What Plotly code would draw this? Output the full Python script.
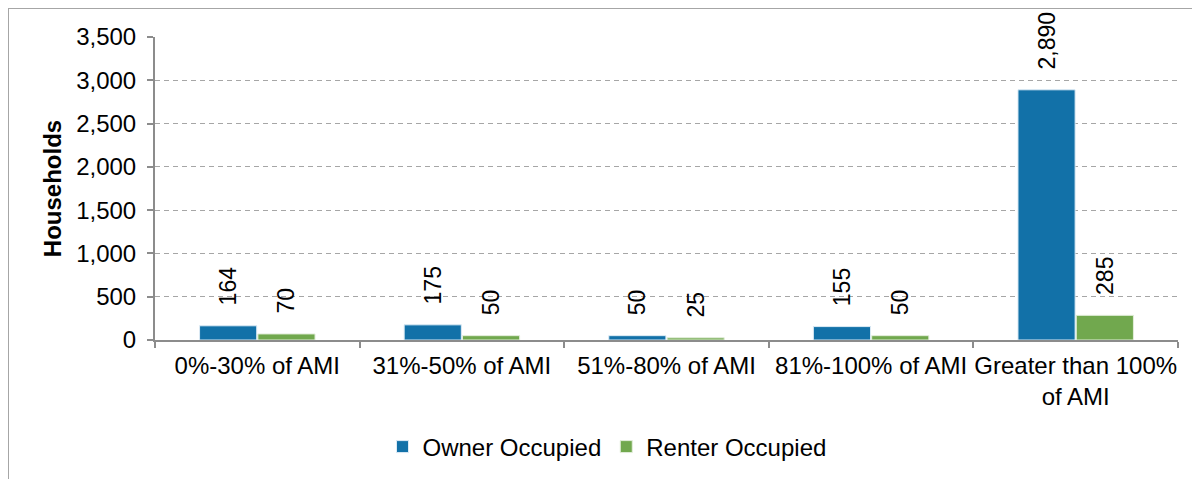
import plotly.graph_objects as go

categories = ["0%-30% of AMI", "31%-50% of AMI", "51%-80% of AMI", "81%-100% of AMI", "Greater than 100%<br>of AMI"]
owner = [164, 175, 50, 155, 2890]
renter = [70, 50, 25, 50, 285]
owner_labels = ["164", "175", "50", "155", "2,890"]
renter_labels = ["70", "50", "25", "50", "285"]

BLUE = "#1271A8"
GREEN = "#71A84E"
FONT = "Arial, Liberation Sans, sans-serif"
FS = 24
LFS = 23
PAD = "\u00a0\u00a0\u2009"

fig = go.Figure()
fig.add_trace(go.Bar(
    x=categories, y=owner, name="Owner Occupied", marker=dict(color=BLUE, line=dict(color="#DDEBF5", width=1)),
    text=[PAD + s for s in owner_labels], textposition="outside", textangle=-90, cliponaxis=False,
    constraintext="none", textfont=dict(size=LFS, color="#000000", family=FONT),
))
fig.add_trace(go.Bar(
    x=categories, y=renter, name="Renter Occupied", marker=dict(color=GREEN, line=dict(color="#E3EEDB", width=1)),
    text=[PAD + s for s in renter_labels], textposition="outside", textangle=-90, cliponaxis=False,
    constraintext="none", textfont=dict(size=LFS, color="#000000", family=FONT),
))

# page has an 8px body margin; figure coords = page coords - 8
OFF = 8
W, H = 1200 - OFF, 479 - OFF
L, R, T, B = 155 - OFF, 1178 - OFF, 37 - OFF, 340 - OFF
pw, ph = R - L, B - T

fig.update_layout(
    width=W, height=H,
    margin=dict(l=L, r=W - R, t=T, b=H - B, autoexpand=False),
    paper_bgcolor="white", plot_bgcolor="white",
    barmode="group", bargap=0.43, bargroupgap=0.02,
    font=dict(family=FONT, size=FS, color="#000000"),
    showlegend=True,
    legend=dict(orientation="h", x=(607 - OFF - L) / pw, xanchor="center",
                y=-(447 - OFF - B) / ph, yanchor="middle",
                font=dict(size=FS, family=FONT), itemwidth=30, traceorder="normal"),
    xaxis=dict(
        showline=True, linecolor="#8C8C8C", linewidth=2,
        ticks="outside", tickson="boundaries", ticklen=6, tickcolor="#8C8C8C", tickwidth=2,
        tickfont=dict(size=FS, family=FONT), showgrid=False, ticklabelstandoff=3, tickangle=0,
    ),
    yaxis=dict(
        range=[0, 3500], dtick=500, tickformat=",d",
        showline=True, linecolor="#8C8C8C", linewidth=2,
        ticks="outside", ticklen=6, tickcolor="#8C8C8C", tickwidth=2,
        showgrid=True, gridcolor="#A6A6A6", griddash="5px,4px", gridwidth=1,
        tickfont=dict(size=FS, family=FONT), ticklabelstandoff=6,
        title=dict(text="<b>Households</b>", font=dict(size=FS, family=FONT), standoff=8),
        zeroline=False,
    ),
    shapes=[dict(
        type="rect", xref="paper", yref="paper",
        x0=(0 - L) / pw, x1=(W + 10 - L) / pw,
        y0=-(H + 10 - B) / ph, y1=(B - 0) / ph,
        line=dict(color="#A6A6A6", width=2), fillcolor="rgba(0,0,0,0)", layer="below",
    )],
)

fig.write_html("out.html")
